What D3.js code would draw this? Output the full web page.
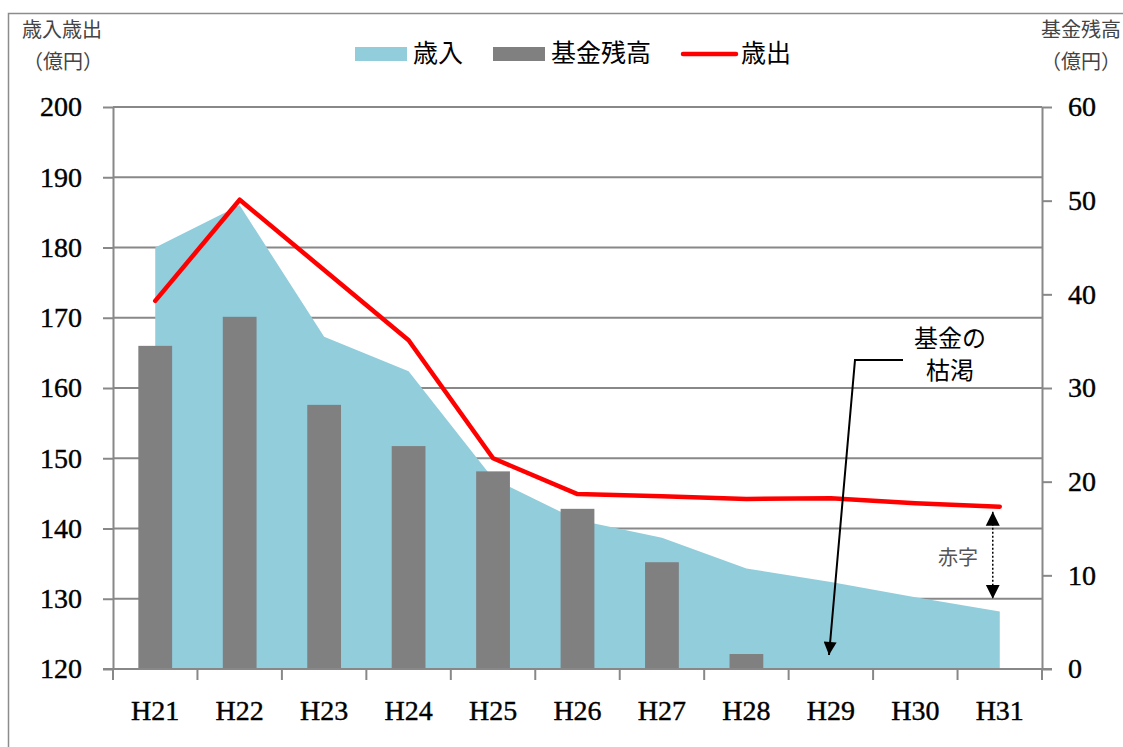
<!DOCTYPE html>
<html>
<head>
<meta charset="utf-8">
<script src="https://cdn.jsdelivr.net/npm/d3@7"></script>
<style>
  body { margin: 0; background: #fff; }
  svg { display: block; }
</style>
</head>
<body>
<div id="chart"></div>
<script>
// data
const years = ["H21", "H22", "H23", "H24", "H25", "H26", "H27", "H28", "H29", "H30", "H31"];
const revenue = [180.0, 186.0, 167.3, 162.4, 147.1, 141.2, 138.7, 134.3, 132.4, 130.2, 128.2];   // 歳入 (area)
const expenditure = [172.4, 186.8, 176.8, 166.8, 150.0, 144.9, 144.6, 144.2, 144.3, 143.6, 143.1]; // 歳出 (line)
const fund = [34.5, 37.6, 28.2, 23.8, 21.1, 17.1, 11.4, 1.6, 0, 0, 0]; // 基金残高 (bars)
const leftTicks = [120, 130, 140, 150, 160, 170, 180, 190, 200];
const rightTicks = [0, 10, 20, 30, 40, 50, 60];

const data = years.map((y, i) => ({ year: y, rev: revenue[i], exp: expenditure[i], fund: fund[i] }));

const W = 1123, H = 747;
const margin = { top: 107, right: 81, bottom: 78, left: 113 };
const width = W - margin.left - margin.right;
const height = H - margin.top - margin.bottom;

const axisColor = "#888";
const serif = "'Liberation Serif', 'DejaVu Serif', serif";
const cjk = "'Noto Sans CJK JP', 'Noto Sans', sans-serif";

const svg = d3.select("#chart").append("svg")
    .attr("width", W)
    .attr("height", H);

// outer frame
svg.append("rect")
    .attr("x", 8.5).attr("y", 13.5)
    .attr("width", W + 10).attr("height", H + 10)
    .attr("fill", "none")
    .attr("stroke", "#8c8c8c")
    .attr("stroke-width", 1.5);

const g = svg.append("g").attr("transform", `translate(${margin.left},${margin.top})`);

const x = d3.scaleBand().domain(years).range([0, width]).padding(0);
const yL = d3.scaleLinear().domain([120, 200]).range([height, 0]);
const yR = d3.scaleLinear().domain([0, 60]).range([height, 0]);
const cx = d => x(d.year) + x.bandwidth() / 2;

// gridlines
g.selectAll(".grid")
    .data(leftTicks.filter(t => t > 120))
    .enter().append("line")
    .attr("x1", 0).attr("x2", width)
    .attr("y1", d => yL(d)).attr("y2", d => yL(d))
    .attr("stroke", axisColor).attr("stroke-width", 2);

// revenue area
const area = d3.area()
    .x(cx)
    .y0(yL(120))
    .y1(d => yL(d.rev));
g.append("path")
    .datum(data)
    .attr("d", area)
    .attr("fill", "#92CDDC");

// fund bars
const barW = x.bandwidth() * 0.4;
g.selectAll(".bar")
    .data(data.filter(d => d.fund > 0))
    .enter().append("rect")
    .attr("class", "bar")
    .attr("x", d => cx(d) - barW / 2)
    .attr("width", barW)
    .attr("y", d => yR(d.fund))
    .attr("height", d => yR(0) - yR(d.fund))
    .attr("fill", "#808080");

// expenditure line
const line = d3.line().x(cx).y(d => yL(d.exp));
g.append("path")
    .datum(data)
    .attr("d", line)
    .attr("fill", "none")
    .attr("stroke", "#FF0000")
    .attr("stroke-width", 4.5)
    .attr("stroke-linecap", "round")
    .attr("stroke-linejoin", "round");

// axes
function styleAxis(sel) {
    sel.selectAll("path, line").attr("stroke", axisColor).attr("stroke-width", 2);
    sel.selectAll("text")
        .attr("font-family", serif)
        .attr("font-size", 28)
        .attr("fill", "#000")
        .attr("stroke", "#000")
        .attr("stroke-width", 0.4);
}

g.append("g")
    .call(d3.axisLeft(yL).tickValues(leftTicks).tickSize(10).tickSizeOuter(0).tickPadding(21))
    .call(styleAxis);

g.append("g")
    .attr("transform", `translate(${width},0)`)
    .call(d3.axisRight(yR).tickValues(rightTicks).tickSize(10).tickSizeOuter(0).tickPadding(16))
    .call(styleAxis);

// x axis: ticks at category boundaries, labels at centers
const xAxisG = g.append("g").attr("transform", `translate(0,${height})`);
xAxisG.append("line")
    .attr("x1", -10).attr("x2", width + 10)
    .attr("stroke", axisColor).attr("stroke-width", 2);
const bounds = years.map(y => x(y)).concat([width]);
xAxisG.selectAll(".xtick")
    .data(bounds)
    .enter().append("line")
    .attr("x1", d => d).attr("x2", d => d)
    .attr("y1", 0).attr("y2", 11)
    .attr("stroke", axisColor).attr("stroke-width", 2);
xAxisG.selectAll(".xlabel")
    .data(years)
    .enter().append("text")
    .attr("x", d => x(d) + x.bandwidth() / 2)
    .attr("y", 51)
    .attr("text-anchor", "middle")
    .attr("font-family", serif)
    .attr("font-size", 28)
    .attr("stroke", "#000")
    .attr("stroke-width", 0.4)
    .text(d => d);

// axis titles
const titles = svg.append("g").attr("font-family", cjk).attr("font-size", 20).attr("fill", "#444");
titles.append("text").attr("x", 22).attr("y", 37).text("歳入歳出");
titles.append("text").attr("x", 63).attr("y", 69).attr("text-anchor", "middle").text("（億円）");
titles.append("text").attr("x", 1121).attr("y", 37).attr("text-anchor", "end").text("基金残高");
titles.append("text").attr("x", 1081).attr("y", 69).attr("text-anchor", "middle").text("（億円）");

// legend
const legend = svg.append("g").attr("font-family", cjk).attr("font-size", 25);
legend.append("rect").attr("x", 355).attr("y", 47).attr("width", 52).attr("height", 14).attr("fill", "#92CDDC");
legend.append("text").attr("x", 413).attr("y", 62).text("歳入");
legend.append("rect").attr("x", 493).attr("y", 47).attr("width", 52).attr("height", 14).attr("fill", "#808080");
legend.append("text").attr("x", 551).attr("y", 62).text("基金残高");
legend.append("line").attr("x1", 683).attr("x2", 736).attr("y1", 54).attr("y2", 54)
    .attr("stroke", "#FF0000").attr("stroke-width", 4.5).attr("stroke-linecap", "round");
legend.append("text").attr("x", 741).attr("y", 62).text("歳出");

// annotation: 基金の枯渇
const defs = svg.append("defs");
defs.append("marker")
    .attr("id", "arrow")
    .attr("viewBox", "0 0 10 10")
    .attr("refX", 10).attr("refY", 5)
    .attr("markerWidth", 16).attr("markerHeight", 13)
    .attr("markerUnits", "userSpaceOnUse")
    .attr("orient", "auto")
  .append("path")
    .attr("d", "M0,0 L10,5 L0,10 Z")
    .attr("fill", "#000");
defs.append("marker")
    .attr("id", "tri")
    .attr("viewBox", "0 0 10 10")
    .attr("refX", 10).attr("refY", 5)
    .attr("markerWidth", 14).attr("markerHeight", 15)
    .attr("markerUnits", "userSpaceOnUse")
    .attr("orient", "auto-start-reverse")
  .append("path")
    .attr("d", "M0,0 L10,5 L0,10 Z")
    .attr("fill", "#000");

const ann = svg.append("g").attr("font-family", cjk).attr("font-size", 24);
ann.append("text").attr("x", 950).attr("y", 347).attr("text-anchor", "middle").text("基金の");
ann.append("text").attr("x", 950).attr("y", 379).attr("text-anchor", "middle").text("枯渇");
ann.append("path")
    .attr("d", "M903,360 L855,360 L829,655")
    .attr("fill", "none")
    .attr("stroke", "#000")
    .attr("stroke-width", 2)
    .attr("marker-end", "url(#arrow)");

// deficit marker: 赤字
const last = data[data.length - 1];
const xDef = margin.left + cx(last) - 7;
ann.append("line")
    .attr("x1", xDef).attr("x2", xDef)
    .attr("y1", margin.top + yL(last.exp) + 5)
    .attr("y2", margin.top + yL(130))
    .attr("stroke", "#000")
    .attr("stroke-width", 1.5)
    .attr("stroke-dasharray", "2,2")
    .attr("marker-start", "url(#tri)")
    .attr("marker-end", "url(#tri)");
ann.append("text")
    .attr("x", 958).attr("y", 565)
    .attr("text-anchor", "middle")
    .attr("font-size", 20)
    .attr("fill", "#555")
    .text("赤字");
</script>
</body>
</html>
